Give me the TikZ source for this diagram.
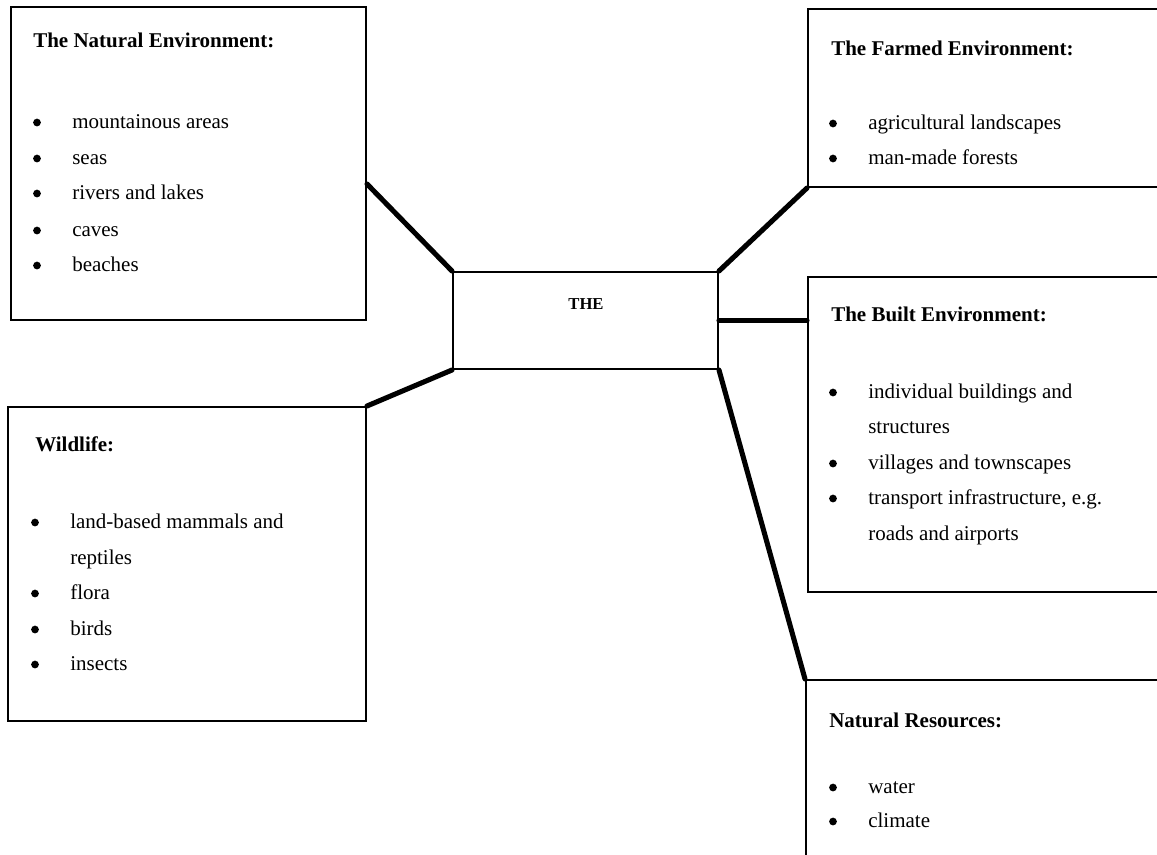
\documentclass[tikz,border=0pt]{standalone}
\usepackage{fontspec}
\setmainfont{Liberation Serif}
\usetikzlibrary{fit,calc}
\newcommand{\bitem}[4]{%
  \node[dot] (#1b) at (#2,#3-5.5) {};
  \node[item] (#1) at (#2+35,#3) {#4};}
\begin{document}
\begin{tikzpicture}[x=0.75pt,y=-0.75pt,
  box/.style={draw, line width=1.5pt, inner sep=0pt},
  conn/.style={line width=3.8pt, line cap=round},
  head/.style={anchor=base west, inner sep=0pt, font=\fontsize{15.75}{18}\selectfont\bfseries},
  item/.style={anchor=base west, inner sep=0pt, font=\fontsize{15.75}{18}\selectfont},
  dot/.style={circle, fill, inner sep=0pt, minimum size=5.8pt}]
\useasboundingbox (0,0) rectangle (1157,854);
\clip (0,0) rectangle (1157,854);
\fill[white] (0,0) rectangle (1157,854);

% boxes
\node[box, fit={(11,7) (366,320)}] (nat) {};
\node[box, fit={(808,9) (1175,187)}] (farm) {};
\node[box, fit={(453,272) (718,369)}] (center) {};
\node[box, fit={(808,277) (1175,592)}] (built) {};
\node[box, fit={(8,407) (366,721)}] (wild) {};
\node[box, fit={(806,680) (1175,880)}] (res) {};

% centre label
\node[anchor=base, inner sep=0pt, font=\fontsize{12.5}{14}\selectfont\bfseries] (the) at (586,309) {THE};

% connectors
\draw[conn] ($(nat.north east)!0.565!(nat.south east)$) -- (center.north west);
\draw[conn] (center.north east) -- (farm.south west);
\draw[conn] (center.south west) -- (wild.north east);
\draw[conn] (center.east) -- (center.east -| built.west);
\draw[conn] (center.south east) -- (res.north west);

% The Natural Environment
\node[head] (nath) at (33,47) {The Natural Environment:};
\bitem{n1}{37}{128}{mountainous areas}
\bitem{n2}{37}{164}{seas}
\bitem{n3}{37}{199}{rivers and lakes}
\bitem{n4}{37}{236}{caves}
\bitem{n5}{37}{271}{beaches}

% The Farmed Environment
\node[head] (farmh) at (831,55) {The Farmed Environment:};
\bitem{f1}{833}{129}{agricultural landscapes}
\bitem{f2}{833}{164}{man-made forests}

% The Built Environment
\node[head] (builth) at (831,321) {The Built Environment:};
\bitem{b1}{833}{398}{individual buildings and}
\node[item] (b1c) at (868,433) {structures};
\bitem{b2}{833}{469}{villages and townscapes}
\bitem{b3}{833}{504}{transport infrastructure, e.g.}
\node[item] (b3c) at (868,540) {roads and airports};

% Wildlife
\node[head] (wildh) at (35,451) {Wildlife:};
\bitem{w1}{35}{528}{land-based mammals and}
\node[item] (w1c) at (70,564) {reptiles};
\bitem{w2}{35}{599}{flora}
\bitem{w3}{35}{635}{birds}
\bitem{w4}{35}{670}{insects}

% Natural Resources
\node[head] (resh) at (829,727) {Natural Resources:};
\bitem{r1}{833}{793}{water}
\bitem{r2}{833}{827}{climate}
\end{tikzpicture}
\end{document}
